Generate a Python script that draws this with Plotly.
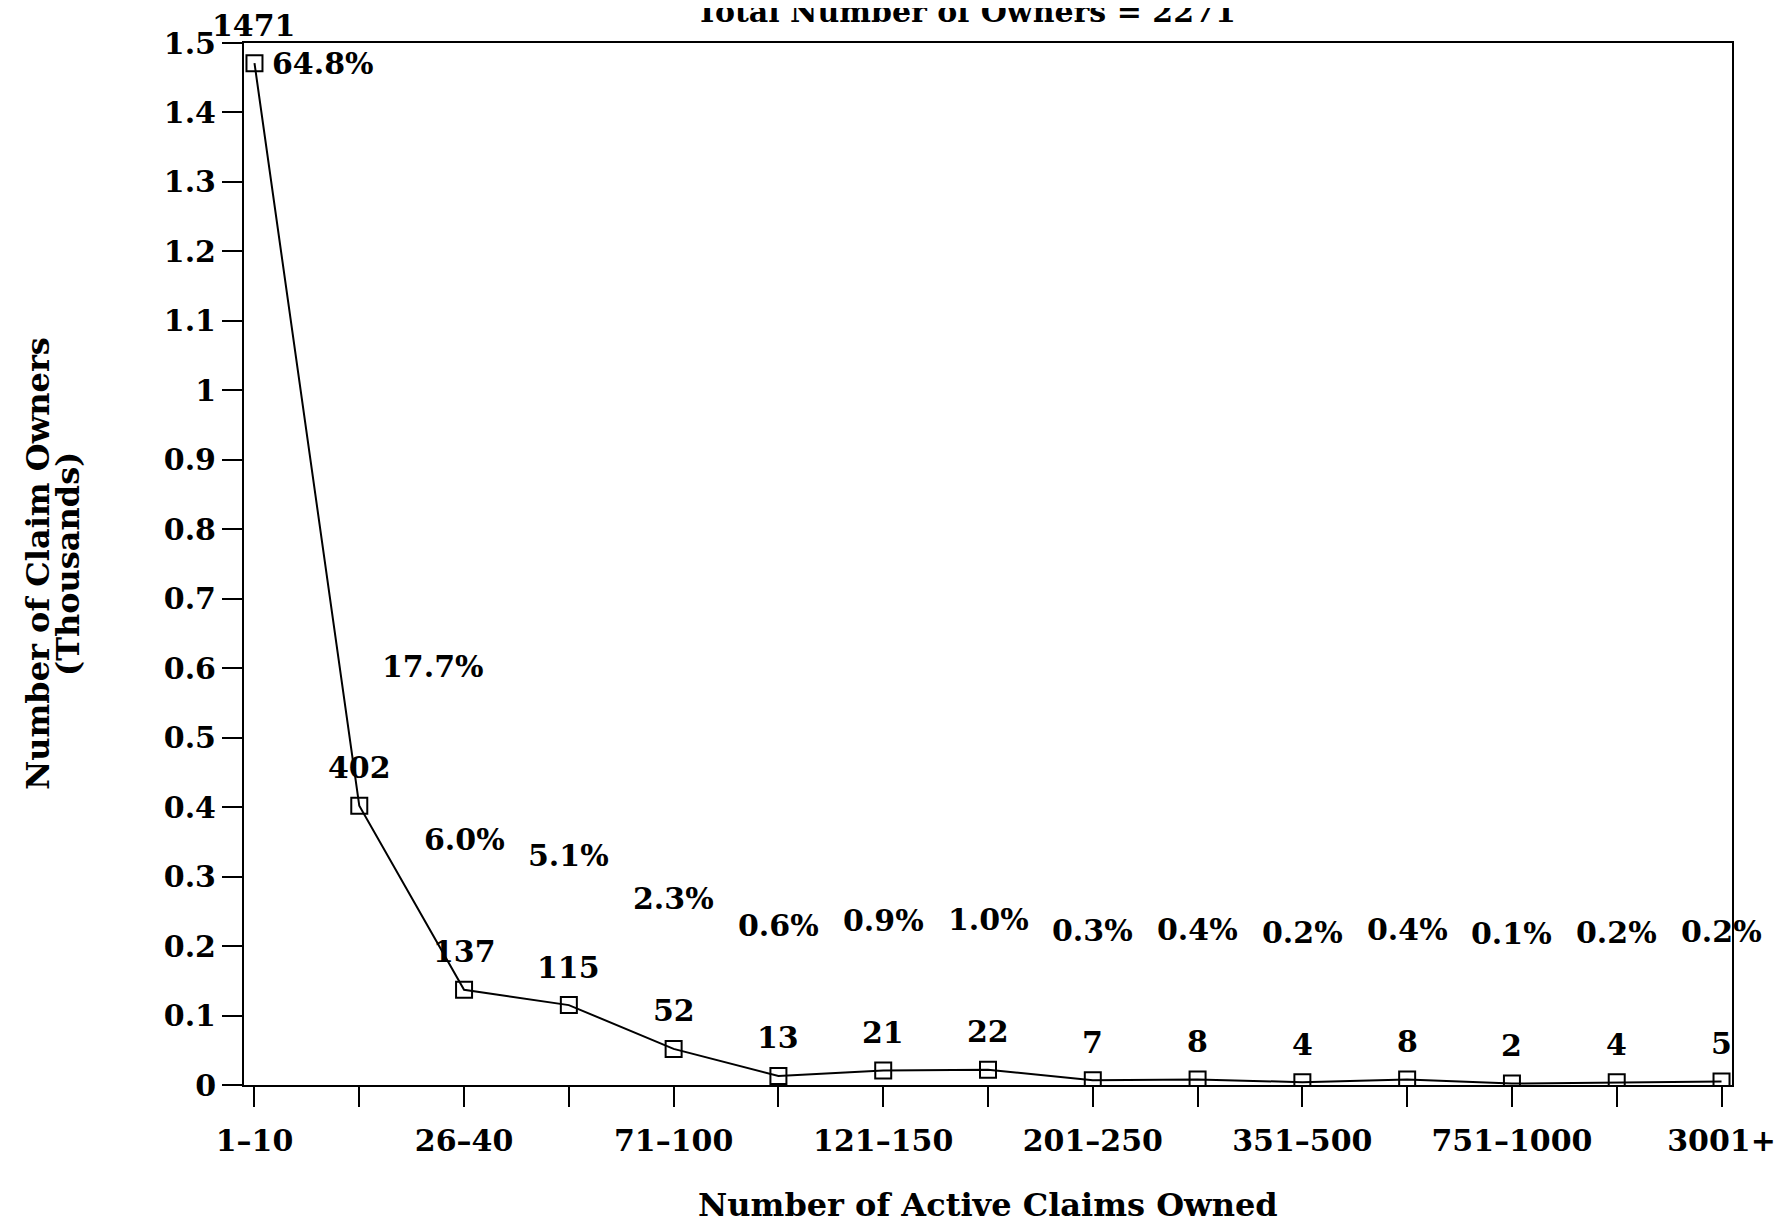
import plotly.graph_objects as go

# ---- data ----
categories = ["1–10", "11–25", "26–40", "41–70", "71–100", "101–120", "121–150",
              "151–200", "201–250", "251–350", "351–500", "501–750", "751–1000",
              "1001–3000", "3001+"]
owners = [1471, 402, 137, 115, 52, 13, 21, 22, 7, 8, 4, 8, 2, 4, 5]
percents = ["64.8%", "17.7%", "6.0%", "5.1%", "2.3%", "0.6%", "0.9%", "1.0%",
            "0.3%", "0.4%", "0.2%", "0.4%", "0.1%", "0.2%", "0.2%"]
tick_labels = [c if i % 2 == 0 else "" for i, c in enumerate(categories)]
y_ticks = [0, 0.1, 0.2, 0.3, 0.4, 0.5, 0.6, 0.7, 0.8, 0.9, 1, 1.1, 1.2, 1.3, 1.4, 1.5]
total_owners = 2271
y_title_lines = ["Number of Claim Owners", "(Thousands)"]

owners_k = [v / 1000 for v in owners]

FONT = "DejaVu Serif"
font = dict(family=FONT, size=30, color="black", weight="bold")
title_font = dict(family=FONT, size=32, color="black", weight="bold")

L, R, T, B = 236, 62, 35, 147
PW = 1786 - L - R
PH = 1224 - T - B

fig = go.Figure()
fig.add_trace(go.Scatter(
    x=categories, y=owners_k, mode="lines+markers",
    line=dict(color="black", width=2),
    marker=dict(symbol="square-open", size=16, color="black", line=dict(width=2)),
    showlegend=False, hoverinfo="skip",
))

annotations = []
for i, (c, v, yk, p) in enumerate(zip(categories, owners, owners_k, percents)):
    annotations.append(dict(x=c, y=yk, xref="x", yref="y", text=str(v),
                            showarrow=False, yanchor="middle", xanchor="center",
                            yshift=38, font=font))
    if i == 0:
        annotations.append(dict(x=c, y=yk, xref="x", yref="y", text=p,
                                showarrow=False, yanchor="middle", xanchor="left",
                                xshift=16, yshift=0, font=font))
    elif i == 1:
        annotations.append(dict(x=c, y=yk, xref="x", yref="y", text=p,
                                showarrow=False, yanchor="middle", xanchor="center",
                                xshift=74, yshift=139, font=font))
    else:
        annotations.append(dict(x=c, y=yk, xref="x", yref="y", text=p,
                                showarrow=False, yanchor="middle", xanchor="center",
                                yshift=150, font=font))

# titles
annotations.append(dict(x=(958 - L) / PW, y=(1224 - B - 4) / PH, xref="paper", yref="paper",
                        text=f"Total Number of Owners = {total_owners}", showarrow=False,
                        xanchor="center", yanchor="middle", font=font))
annotations.append(dict(x=(980 - L) / PW, y=(1224 - B - 1197) / PH, xref="paper", yref="paper",
                        text="Number of Active Claims Owned", showarrow=False,
                        xanchor="center", yanchor="middle", font=title_font))
for line_text, px in zip(y_title_lines, [30, 60]):
    annotations.append(dict(x=(px - L) / PW, y=0.5, xref="paper", yref="paper",
                            text=line_text, showarrow=False,
                            textangle=-90, xanchor="center", yanchor="middle", font=title_font))

fig.update_layout(
    width=1786, height=1224,
    margin=dict(l=L, r=R, t=T, b=B),
    paper_bgcolor="white", plot_bgcolor="white",
    font=font,
    annotations=annotations,
    xaxis=dict(type="category", categoryorder="array", categoryarray=categories,
               range=[-0.1, 14.1], tickmode="array", tickvals=categories, ticktext=tick_labels,
               showline=True, linecolor="black", linewidth=2, mirror=True,
               ticks="outside", ticklen=20, tickwidth=2, tickcolor="black",
               showgrid=False, zeroline=False, tickfont=font, ticklabelstandoff=8),
    yaxis=dict(range=[0, 1.5], tickmode="array", tickvals=y_ticks,
               showline=True, linecolor="black", linewidth=2, mirror=True,
               ticks="outside", ticklen=20, tickwidth=2, tickcolor="black",
               showgrid=False, zeroline=False, tickfont=font),
)

fig.write_html("out.html")
